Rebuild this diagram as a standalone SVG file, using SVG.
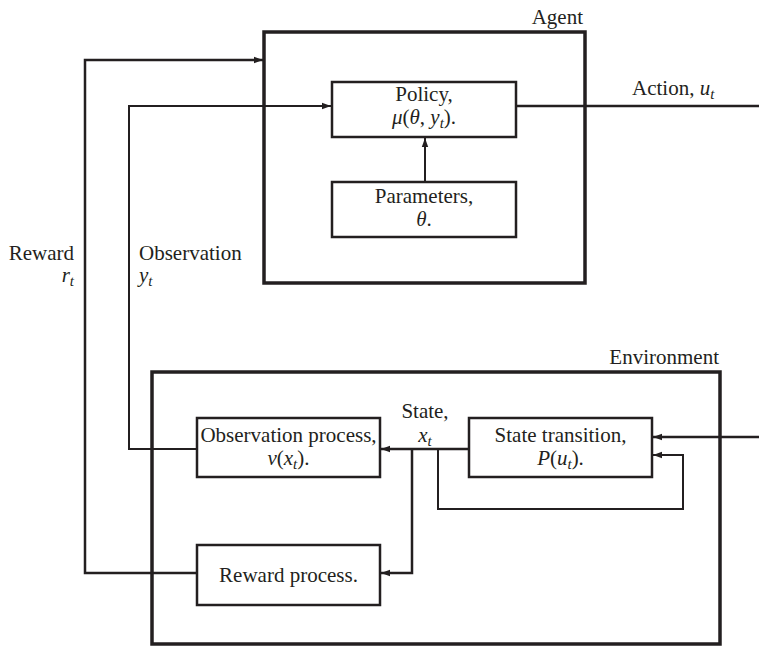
<svg xmlns="http://www.w3.org/2000/svg" width="759" height="646" viewBox="0 0 759 646">
<style>
.frame{fill:none;stroke:#231f20;stroke-width:3.5}
.box{fill:#fff;stroke:#231f20;stroke-width:2.5}
.wire{fill:none;stroke:#231f20;stroke-width:2.5;stroke-linejoin:miter}
.thin{stroke-width:2}
.t{font-family:"Liberation Serif","Times New Roman",serif;font-size:21px;fill:#231f20}
.m{font-style:italic}
.s{font-size:15px;font-style:italic}
</style>
<defs>
<marker id="arr" markerUnits="userSpaceOnUse" markerWidth="10" markerHeight="8" refX="9" refY="4" orient="auto">
<path d="M0,0.8 L9,4 L0,7.2 Z" fill="#231f20"/>
</marker>
</defs>
<rect width="759" height="646" fill="#fff"/>
<g id="connectors">
<polyline class="wire" points="197,573 85,573 85,60 263,60" marker-end="url(#arr)"/>
<polyline class="wire thin" points="197,449 129,449 129,106 331,106" marker-end="url(#arr)"/>
<line class="wire" x1="516" y1="106" x2="759" y2="106"/>
<line class="wire thin" x1="425" y1="182" x2="425" y2="138" marker-end="url(#arr)"/>
<line class="wire" x1="469" y1="449" x2="381" y2="449" marker-end="url(#arr)"/>
<polyline class="wire" points="412,449 412,573 381,573" marker-end="url(#arr)"/>
<polyline class="wire thin" points="438,449 438,509 683,509 683,455 653,455" marker-end="url(#arr)"/>
<line class="wire" x1="759" y1="437" x2="653" y2="437" marker-end="url(#arr)"/>
</g>
<g id="agent">
<rect class="frame" x="264" y="32" width="321" height="251"/>
<text class="t" x="583" y="24" text-anchor="end">Agent</text>
</g>
<g id="environment">
<rect class="frame" x="152" y="372" width="568" height="272"/>
<text class="t" x="719" y="364" text-anchor="end">Environment</text>
</g>
<g id="policy">
<rect class="box" x="332" y="82" width="184" height="55"/>
<text class="t" x="424" y="101" text-anchor="middle">Policy,</text>
<text class="t" x="424" y="124" text-anchor="middle"><tspan class="m">μ</tspan>(<tspan class="m">θ</tspan>, <tspan class="m">y</tspan><tspan class="s" dy="4">t</tspan><tspan dy="-4">).</tspan></text>
</g>
<g id="parameters">
<rect class="box" x="332" y="182" width="184" height="55"/>
<text class="t" x="424" y="203" text-anchor="middle">Parameters,</text>
<text class="t" x="424" y="226" text-anchor="middle"><tspan class="m">θ</tspan>.</text>
</g>
<g id="observation-process">
<rect class="box" x="197" y="418" width="183" height="59"/>
<text class="t" x="288.5" y="442" text-anchor="middle">Observation process,</text>
<text class="t" x="288.5" y="465" text-anchor="middle"><tspan class="m">ν</tspan>(<tspan class="m">x</tspan><tspan class="s" dy="4">t</tspan><tspan dy="-4">).</tspan></text>
</g>
<g id="state-transition">
<rect class="box" x="469" y="418" width="183" height="59"/>
<text class="t" x="560.5" y="442" text-anchor="middle">State transition,</text>
<text class="t" x="560.5" y="465" text-anchor="middle"><tspan class="m">P</tspan>(<tspan class="m">u</tspan><tspan class="s" dy="4">t</tspan><tspan dy="-4">).</tspan></text>
</g>
<g id="reward-process">
<rect class="box" x="197" y="545" width="183" height="60"/>
<text class="t" x="288.5" y="582" text-anchor="middle">Reward process.</text>
</g>
<g id="labels">
<text class="t" x="632" y="95">Action, <tspan class="m">u</tspan><tspan class="s" dy="4">t</tspan></text>
<text class="t" x="74" y="260" text-anchor="end">Reward</text>
<text class="t" x="74" y="282" text-anchor="end"><tspan class="m">r</tspan><tspan class="s" dy="4">t</tspan></text>
<text class="t" x="139" y="260">Observation</text>
<text class="t" x="139" y="282"><tspan class="m">y</tspan><tspan class="s" dy="4">t</tspan></text>
<text class="t" x="425" y="418" text-anchor="middle">State,</text>
<text class="t" x="425" y="442" text-anchor="middle"><tspan class="m">x</tspan><tspan class="s" dy="4">t</tspan></text>
</g>
</svg>
